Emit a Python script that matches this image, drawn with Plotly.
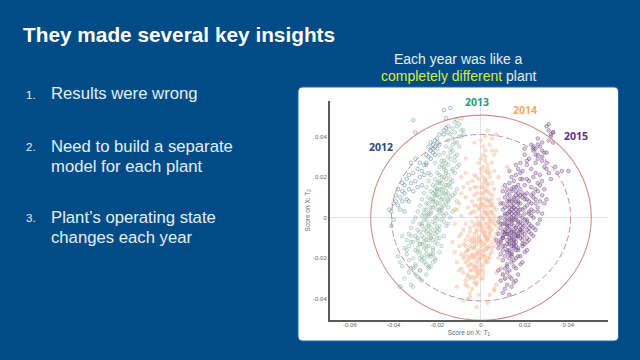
import plotly.graph_objects as go

W, H = 640, 360
SCALE = 0.001

t1_2012 = [-41,-42,-41,-40,-40,-39,-39,-38,-38,-37,-37,-36,-36,-36,-35,-35,-35,-34,-34,-33,-33,-33,-32,-32,-31,-31,-31,-30,-30,-30,-29,-29,-28,-28,-27,-27,-26,-26,-25,-25,-25,-24,-24,-24,-23,-23,-23,-22,-22,-22,-21,-21,-21,-20,-20,-20,-19,-19,-17,-17,-16,-15,-15,-17,-14,-16,-32,-37]
t2_2012 = [-4,4,3,7,-1,8,11,6,14,10,4,13,17,8,3,16,12,19,9,14,21,8,17,27,13,22,48,18,29,42,24,15,20,27,23,16,21,26,26,27,31,30,22,35,33,29,37,36,32,34,38,35,31,37,34,39,36,41,43,41,44,45,42,53,54,49,-25,-34]

t1_2013 = [-31,-32,-35,-29,-27,-33,-30,-28,-25,-36,-31,-28,-25,-24,-37,-33,-30,-28,-26,-24,-23,-21,
           -38,-34,-31,-29,-27,-25,-23,-21,-19,-35,-33,-30,-28,-26,-24,-22,-20,-32,
           -34,-31,-29,-27,-25,-23,-21,-19,-18,-33,-30,-28,-26,-24,-22,-20,-17,-36,
           -32,-29,-27,-25,-23,-21,-19,-16,-31,-28,-26,-24,-22,-20,-18,-15,-30,-27,-25,
           -23,-21,-19,-17,-14,-29,-26,-24,-22,-20,-18,-16,-13,-28,-25,-23,-21,-19,-17,
           -15,-12,-27,-24,-22,-20,-18,-16,-14,-26,-23,-21,-19,-17,-15,-13,-11,
           -25,-22,-20,-18,-16,-14,-12,-24,-21,-19,-17,-15,-13,-11,-23,-20,-18,-16,-14,
           -12,-19,-17,-15,-13,-11,-21,-18,-16,-14,-12,-10,-19,-17,-15,-13,-11,-16,-14,-12,-10,
           -15,-13,-11,-9,-14,-12,-10,-8,-13,-11,-9,-12,-10,-11,-8,-9,
           -24,-23,-26,-25,-22,-27,-20,-21,-24,-26,-28,-25,-23,-19,-22,-20,-18,-17,-19,-20,-18,-21,-16,-17,
           -23,-25,-27,-21,-22,-24,-20,-18,-19,-26,-28,-23,-25,-22,-20,-24,-21,-19,-17,-16,-18,-22,-27,-29,-25,-23,-21,-26,-24,-20,
           -15,-14,-13,-17,-16,-18,-15,-12,-13,-14,-16,-19,-21,-17,-15,-30,-32,-34,-28,-29]
t2_2013 = [-34,-33,-30,-29,-31,-27,-28,-26,-28,-24,-25,-26,-23,-25,-22,-21,-23,-20,-22,-19,-24,-21,
           -19,-18,-20,-17,-19,-16,-18,-20,-17,-15,-14,-16,-13,-15,-14,-16,-13,-12,
           -11,-12,-10,-13,-11,-9,-12,-10,-14,-8,-9,-7,-10,-8,-11,-7,-9,-9,
           -5,-6,-4,-7,-5,-3,-6,-4,-2,-3,-1,-4,-2,-5,-1,-3,0,1,-1,
           2,0,3,-2,0,3,4,2,5,1,4,2,3,6,7,5,8,4,6,
           5,4,9,10,8,11,9,7,10,12,13,11,14,12,9,11,8,
           15,16,14,17,13,15,12,18,19,17,20,16,18,14,21,22,20,23,19,
           22,25,24,26,23,25,27,28,27,29,28,26,31,32,30,33,31,35,34,37,35,
           38,39,37,40,41,42,40,43,44,45,43,47,46,48,41,49,
           -3,-7,-12,-18,-15,-9,-1,6,1,-20,-17,-5,-19,10,9,13,12,15,18,7,5,11,19,9,
           -10,-14,-3,-8,-22,-11,4,2,-4,-6,-13,3,1,-18,-10,7,15,7,1,16,14,12,-21,-15,4,9,-6,2,-24,17,
           21,17,24,28,22,26,12,30,36,32,11,21,13,25,8,-24,-9,-16,-30,-11]

t1_2014 = [-5,-6,-4,-3,-7,-5,-2,-6,-4,-8,-3,-5,-1,-9,-6,-4,-2,-7,
           -5,-3,-1,1,-8,-6,-4,-2,0,2,-9,-7,-5,-3,-1,1,3,-6,-4,-2,
           0,2,4,-10,-8,-5,-3,-1,1,3,5,-7,-4,-2,0,2,4,6,-9,-6,
           -3,-1,1,3,5,7,-5,-2,0,2,4,6,8,-7,-4,-1,1,3,5,7,
           -2,0,2,4,6,8,-5,-3,-1,1,3,5,7,-6,-2,0,2,4,6,-4,
           -1,1,3,5,-7,-3,0,2,4,6,-5,-2,1,3,5,-4,-1,2,4,-6,
           -3,0,2,1,3,-1,2,0,3,1,2,-2,4,1,2,0,
           2,3,1,4,0,2,-1,3,1,-2,0,2,4,-3,-1,1,3,5,-2,0,3,2,1,4,-3,0,-2,1,
           -12,-10,-11,-9,-13,-10,-8,-12,-9,-7,-11,-8,-6,-10,-9,-7,8,9,10,7,9,11,8,6,5,7,10,12,6,8,4,5,-3,2,3,5,7,-1,6,-8,-11,-6,4,6,3,-7,-5,9,-2,7,
           1,2,3,4,5,0,-1,-2,-3,-4,6,5,4,3,2,1,0,-1,-2,-3,3,4,5,2,1,0,-1,-2,-3,-4,-5,5,4,3,2,1,0,-1,-2,-3,
           2,3,4,1,0,-1,2,3,1,0,2,1,-3,-6,-8,-4,-2,-5,-7,6,7,5,-6,-3,1,-4,-2,0,3,4]
t2_2014 = [-37,-34,-35,-32,-31,-30,-33,-28,-29,-27,-30,-26,-28,-25,-24,-26,-27,-22,
           -23,-24,-25,-26,-20,-21,-19,-22,-23,-21,-18,-17,-20,-19,-21,-18,-20,-16,-15,-18,
           -17,-16,-18,-14,-13,-14,-12,-16,-13,-15,-12,-11,-10,-13,-11,-9,-14,-10,-8,-9,
           -8,-9,-7,-10,-6,-8,-5,-6,-4,-7,-5,-3,-6,-3,-2,-4,-1,-3,-2,-4,
           0,1,2,-1,1,0,2,3,4,3,5,2,4,5,6,7,6,8,5,8,
           9,10,9,11,10,11,12,13,12,14,14,15,15,16,17,18,19,18,20,17,
           21,22,23,25,26,27,28,29,24,31,33,20,22,35,30,38,
           -10,-5,-8,0,-3,3,-12,-15,-19,-24,-14,-22,-8,-20,-2,0,8,7,-17,6,2,-12,-24,-4,-15,-30,-29,-28,
           -3,-9,4,12,-12,7,15,-17,1,22,-22,-19,-29,-26,20,29,-20,-13,-28,-33,-25,-30,9,23,27,33,15,25,31,20,36,39,37,40,43,33,41,-38,-35,-41,-34,-40,-38,-36,-42,-33,-39,-25,-44,-27,
           -16,-19,-11,-7,-15,-26,-10,-11,-14,-23,-1,9,6,13,-3,17,-6,-18,-7,-25,-22,-9,3,9,5,-12,-20,-3,-10,-18,-11,6,-2,1,-14,-30,-20,-27,-26,-4,
           14,17,3,7,15,5,19,22,12,9,-9,-5,6,-16,-6,-12,12,-7,-14,-14,-12,-17,-19,15,20,3,-32,24,-11,-20]

t1_2015 = [10,11,13,14,12,15,9,11,13,16,10,12,14,17,8,11,13,15,12,14,
           16,18,10,13,15,17,19,9,12,14,16,18,20,8,11,13,15,17,19,21,
           7,9,10,12,14,16,18,20,22,24,8,10,11,13,15,17,19,21,23,25,
           9,11,12,14,16,18,20,22,24,26,8,10,13,15,17,19,21,23,27,9,
           11,12,14,16,18,20,22,24,26,28,10,13,15,17,19,21,23,25,9,12,
           14,16,18,20,22,24,27,29,11,13,15,17,19,21,23,26,28,30,10,12,
           14,16,18,20,23,25,27,13,15,17,19,22,24,26,29,11,14,16,18,21,
           25,28,17,19,13,23,27,30,21,25,29,31,18,22,26,32,16,20,24,28,
           20,24,26,28,30,21,25,27,29,23,31,33,24,26,31,28,32,33,30,35,37,40,25,30,32,31,33,26,28,34,
           12,14,13,15,16,14,13,15,17,12,14,16,11,13,15,12,14,16,17,15,13,11,14,16,18,10,12,14,15,17,
           13,15,17,19,14,16,18,12,10,11,9,20,22,13,15,17,19,21,14,16,18,12,10,8,11,13,15,17,19,21,12,14,16,18,20,13,15,17,19,14,
           11,10,9,12,14,16,18,20,22,24,26,19,17,15,13,18,16,14,12,21,23,25,20,22,15,17,13,11,16,14,19,21,23,24,18,15,13,12,10,16]
t2_2015 = [-37,-35,-38,-34,-33,-32,-31,-30,-29,-31,-28,-27,-30,-28,-26,-25,-26,-24,-23,-22,
           -25,-23,-21,-20,-21,-19,-22,-18,-17,-18,-16,-19,-17,-15,-14,-16,-13,-15,-14,-16,
           -11,-12,-10,-13,-11,-12,-10,-13,-11,-9,-8,-9,-7,-10,-8,-9,-7,-10,-8,-6,
           -5,-6,-4,-7,-5,-6,-4,-7,-5,-3,-2,-3,-1,-4,-2,-3,-1,-4,-1,0,
           1,-1,2,0,1,-1,2,0,3,2,4,5,3,5,4,6,4,7,7,8,
           6,8,7,9,8,10,8,7,10,11,9,12,10,12,11,13,11,9,13,14,
           13,15,14,16,15,14,16,17,18,16,19,18,20,17,14,16,20,21,22,19,
           22,18,24,23,23,24,21,24,26,27,25,22,27,29,31,19,26,31,33,28,
           34,35,36,30,32,28,34,35,32,36,38,37,34,29,43,33,41,42,45,22,23,23,31,27,40,46,42,39,37,25,
           -5,-3,-8,-1,-9,0,3,5,2,-11,-14,4,-3,8,10,-8,-6,-5,7,-12,1,-8,8,11,-4,-7,2,4,-15,-8,
           -12,-14,-9,-11,-2,2,-7,-16,-14,2,-3,5,3,-18,7,10,-5,-2,-9,-1,4,6,-10,-13,-1,-6,1,3,12,9,12,14,-7,11,-8,3,-11,-16,-13,-19,
           -19,-16,-11,-3,-10,-14,-6,2,-5,3,5,-9,-3,-7,-13,-2,13,-17,-24,-12,1,9,11,-3,15,8,-4,5,-10,-1,0,-6,7,12,19,5,9,-8,7,-20]

x_ticks = [-0.06, -0.04, -0.02, 0, 0.02, 0.04]
x_labels = ["-0.06", "-0.04", "-0.02", "0", "0.02", "0.04"]
y_ticks = [-0.04, -0.02, 0, 0.02, 0.04]
y_labels = ["-0.04", "-0.02", "0", "0.02", "0.04"]
limit_outer = 0.0505
limit_inner = 0.041

series = [
    ("2012", t1_2012, t2_2012, "rgba(70,125,145,0.75)", "rgba(70,125,145,0.05)"),
    ("2013", t1_2013, t2_2013, "rgba(125,170,148,0.7)", "rgba(125,170,148,0.14)"),
    ("2014", t1_2014, t2_2014, "rgba(243,185,150,0.6)", "rgba(243,180,145,0.4)"),
    ("2015", t1_2015, t2_2015, "rgba(115,70,135,0.75)", "rgba(115,70,135,0.25)"),
]

fig = go.Figure()
for name, xs, ys, line, fill in series:
    fig.add_trace(go.Scatter(
        x=[v * SCALE for v in xs], y=[v * SCALE for v in ys], mode="markers", name=name,
        marker=dict(symbol="circle", size=3.6, color=fill, line=dict(color=line, width=0.6)),
    ))

def px(x):
    return x / W

def py(y):
    return 1 - y / H

def card_path(l, t, r, b, rad):
    L, R = px(l), px(r)
    T, B = py(t), py(b)
    dx, dy = rad / W, rad / H
    return (f"M {L+dx} {T} L {R-dx} {T} Q {R} {T} {R} {T-dy} L {R} {B+dy} Q {R} {B} {R-dx} {B} "
            f"L {L+dx} {B} Q {L} {B} {L} {B+dy} L {L} {T-dy} Q {L} {T} {L+dx} {T} Z")

fig.add_shape(type="path", xref="paper", yref="paper", path=card_path(298, 87, 618.5, 341, 5),
              fillcolor="white", line=dict(color="#1e6aa8", width=1), layer="below")
fig.add_shape(type="circle", xref="x", yref="y", x0=-limit_outer, x1=limit_outer, y0=-limit_outer, y1=limit_outer,
              line=dict(color="#d68c88", width=1.1))
fig.add_shape(type="circle", xref="x", yref="y", x0=-limit_inner, x1=limit_inner, y0=-limit_inner, y1=limit_inner,
              line=dict(color="#c78a98", width=1, dash="6px,3px"))

def label(text, x, y, size, color, anchor="left", bold=False, family="Liberation Sans"):
    fig.add_annotation(xref="paper", yref="paper", x=px(x), y=py(y), text=f"<b>{text}</b>" if bold else text,
                       showarrow=False, xanchor=anchor, yanchor="middle", align="center" if anchor == "center" else "left",
                       font=dict(family=family, size=size, color=color), borderpad=0, borderwidth=0)

TXT = "#e6eff7"
label("They made several key insights", 23, 34, 20.8, "#ffffff", bold=True)
label("1.", 26, 95, 11.5, TXT)
label("Results were wrong", 51, 94, 16.7, TXT)
label("2.", 26, 147, 11.5, TXT)
label("Need to build a separate", 51, 146, 16.7, TXT)
label("model for each plant", 51, 166, 16.7, TXT)
label("3.", 26, 218, 11.5, TXT)
label("Plant\u2019s operating state", 51, 217, 16.7, TXT)
label("changes each year", 51, 237, 16.7, TXT)
label("Each year was like a", 458, 59, 14, TXT, anchor="center")
label('<span style="color:#d8ee3a">completely different</span> plant', 458, 76, 14, TXT, anchor="center")
label("2012", 381, 147, 10.5, "#2c4a6e", anchor="center", bold=True, family="Open Sans")
label("2013", 477, 102, 10.5, "#1f9c78", anchor="center", bold=True, family="Open Sans")
label("2014", 525, 109.5, 10.5, "#f0a868", anchor="center", bold=True, family="Open Sans")
label("2015", 576, 135.5, 10.5, "#5e3090", anchor="center", bold=True, family="Open Sans")

axis_common = dict(showgrid=False, zeroline=True, zerolinecolor="#dfe3e6", zerolinewidth=1,
                   showline=True, linecolor="#5a5a5a", linewidth=2, ticks="",
                   tickfont=dict(family="Liberation Sans", size=6, color="#666666"),
                   title_font=dict(family="Liberation Sans", size=6.5, color="#666666"))
fig.update_layout(
    width=W, height=H, autosize=False, showlegend=False,
    margin=dict(l=0, r=0, t=0, b=0),
    paper_bgcolor="#014c87", plot_bgcolor="rgba(0,0,0,0)",
    xaxis=dict(axis_common, domain=[330 / W, 607.7 / W], range=[-0.0691, 0.058], tickvals=x_ticks, ticktext=x_labels,
               ticklabelstandoff=-2, title=dict(text="Score on X: T<sub>1</sub>", standoff=3)),
    yaxis=dict(axis_common, domain=[1 - 320 / H, 1 - 100.7 / H], range=[-0.0504, 0.0576], tickvals=y_ticks, ticktext=y_labels,
               title=dict(text="Score on X: T<sub>2</sub>", standoff=2)),
)

fig.write_html("out.html", config={"displayModeBar": False},
               post_script="document.body.style.margin='0';document.body.style.overflow='hidden';")
